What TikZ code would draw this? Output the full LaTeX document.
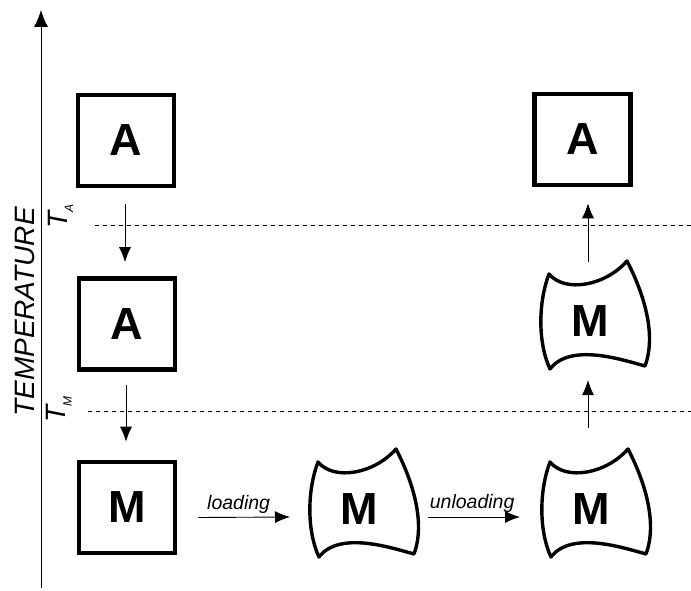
\documentclass[tikz,border=0pt]{standalone}
\usepackage{fontspec}
\setmainfont{Liberation Sans}
\usetikzlibrary{arrows.meta}

\tikzset{
  phasebox/.style={draw, line width=4.6pt, minimum width=96pt, minimum height=91pt,
    inner sep=0pt, font=\bfseries\fontsize{45}{45}\selectfont},
  phaseletter/.style={inner sep=0pt, font=\bfseries\fontsize{45}{45}\selectfont},
  flow/.style={line width=0.9pt, -{Latex[length=15pt,width=12pt]}},
  axisline/.style={line width=0.9pt, -{Latex[length=17pt,width=14pt]}},
  templine/.style={line width=0.8pt, dash pattern=on 4pt off 4pt},
  steplabel/.style={font=\itshape\fontsize{19.5}{19.5}\selectfont, inner sep=0pt, anchor=base},
  templabel/.style={rotate=90, inner sep=0pt, anchor=base west,
    font=\itshape\fontsize{28}{28}\selectfont},
  wavyshape/.pic={
    \draw[line width=3.4pt, line join=round]
      (-41,-47) .. controls (-25,-28) and (15,-35) .. (37,-60)
      .. controls (50,-35) and (68,10) .. (55,45)
      .. controls (30,38) and (-20,22) .. (-40,48)
      .. controls (-51,25) and (-53,-15) .. (-41,-47) -- cycle;
  }
}

\begin{document}
\begin{tikzpicture}[x=1pt, y=-1pt]
\useasboundingbox (0,0) rectangle (691,591);

% temperature axis
\coordinate (axis-bottom) at (41,588);
\coordinate (axis-top) at (41,10);
\draw[axisline] (axis-bottom) -- (axis-top);
\node[rotate=90, inner sep=0pt, font=\itshape\fontsize{28}{28}\selectfont] (axislabel) at (25,312) {TEMPERATURE};

% transformation temperatures
\node[templabel] (ta) at (67,229) {T\kern-1pt\raisebox{-6pt}{\fontsize{12}{12}\selectfont A}};
\node[templabel] (tm) at (65.5,423) {T\kern-1pt\raisebox{-6pt}{\fontsize{12}{12}\selectfont M}};
\coordinate (ta-left) at (95,225);
\coordinate (ta-right) at (691,225);
\coordinate (tm-left) at (88,411);
\coordinate (tm-right) at (691,411);
\draw[templine] (ta-left) -- (ta-right);
\draw[templine] (tm-left) -- (tm-right);

% phases
\node[phasebox] (a1) at (126,140.5) {A};
\node[phasebox] (a2) at (127,324) {A};
\node[phasebox] (m1) at (127,507.5) {M};
\node[phasebox] (a3) at (582.5,139.5) {A};

\node[phaseletter] (m2) at (359,509) {M};
\node[phaseletter] (m3) at (591,509) {M};
\node[phaseletter] (m4) at (590,321) {M};
\path (m2.center) pic {wavyshape};
\path (m3.center) pic {wavyshape};
\path (m4.center) pic {wavyshape};

% cooling path
\draw[flow] ([xshift=-1pt,yshift=-16pt]a1.south) -- ([xshift=-2pt,yshift=14pt]a2.north);
\draw[flow] ([xshift=-1pt,yshift=-13pt]a2.south) -- ([xshift=-1pt,yshift=18pt]m1.north);

% loading and unloading
\draw[flow] ([xshift=21pt,yshift=-10pt]m1.east) -- node[steplabel, pos=0.44, yshift=8pt] {loading} ([xshift=-69pt,yshift=-8pt]m2.center);
\draw[flow] ([xshift=69pt,yshift=-8pt]m2.center) -- node[steplabel, pos=0.48, yshift=9pt] {unloading} ([xshift=-71pt,yshift=-8pt]m3.center);

% heating path
\draw[flow] ([xshift=-3pt,yshift=81pt]m3.center) -- ([xshift=-2pt,yshift=-59pt]m4.center);
\draw[flow] ([xshift=-2pt,yshift=59pt]m4.center) -- ([xshift=5.5pt,yshift=-16pt]a3.south);
\end{tikzpicture}
\end{document}
